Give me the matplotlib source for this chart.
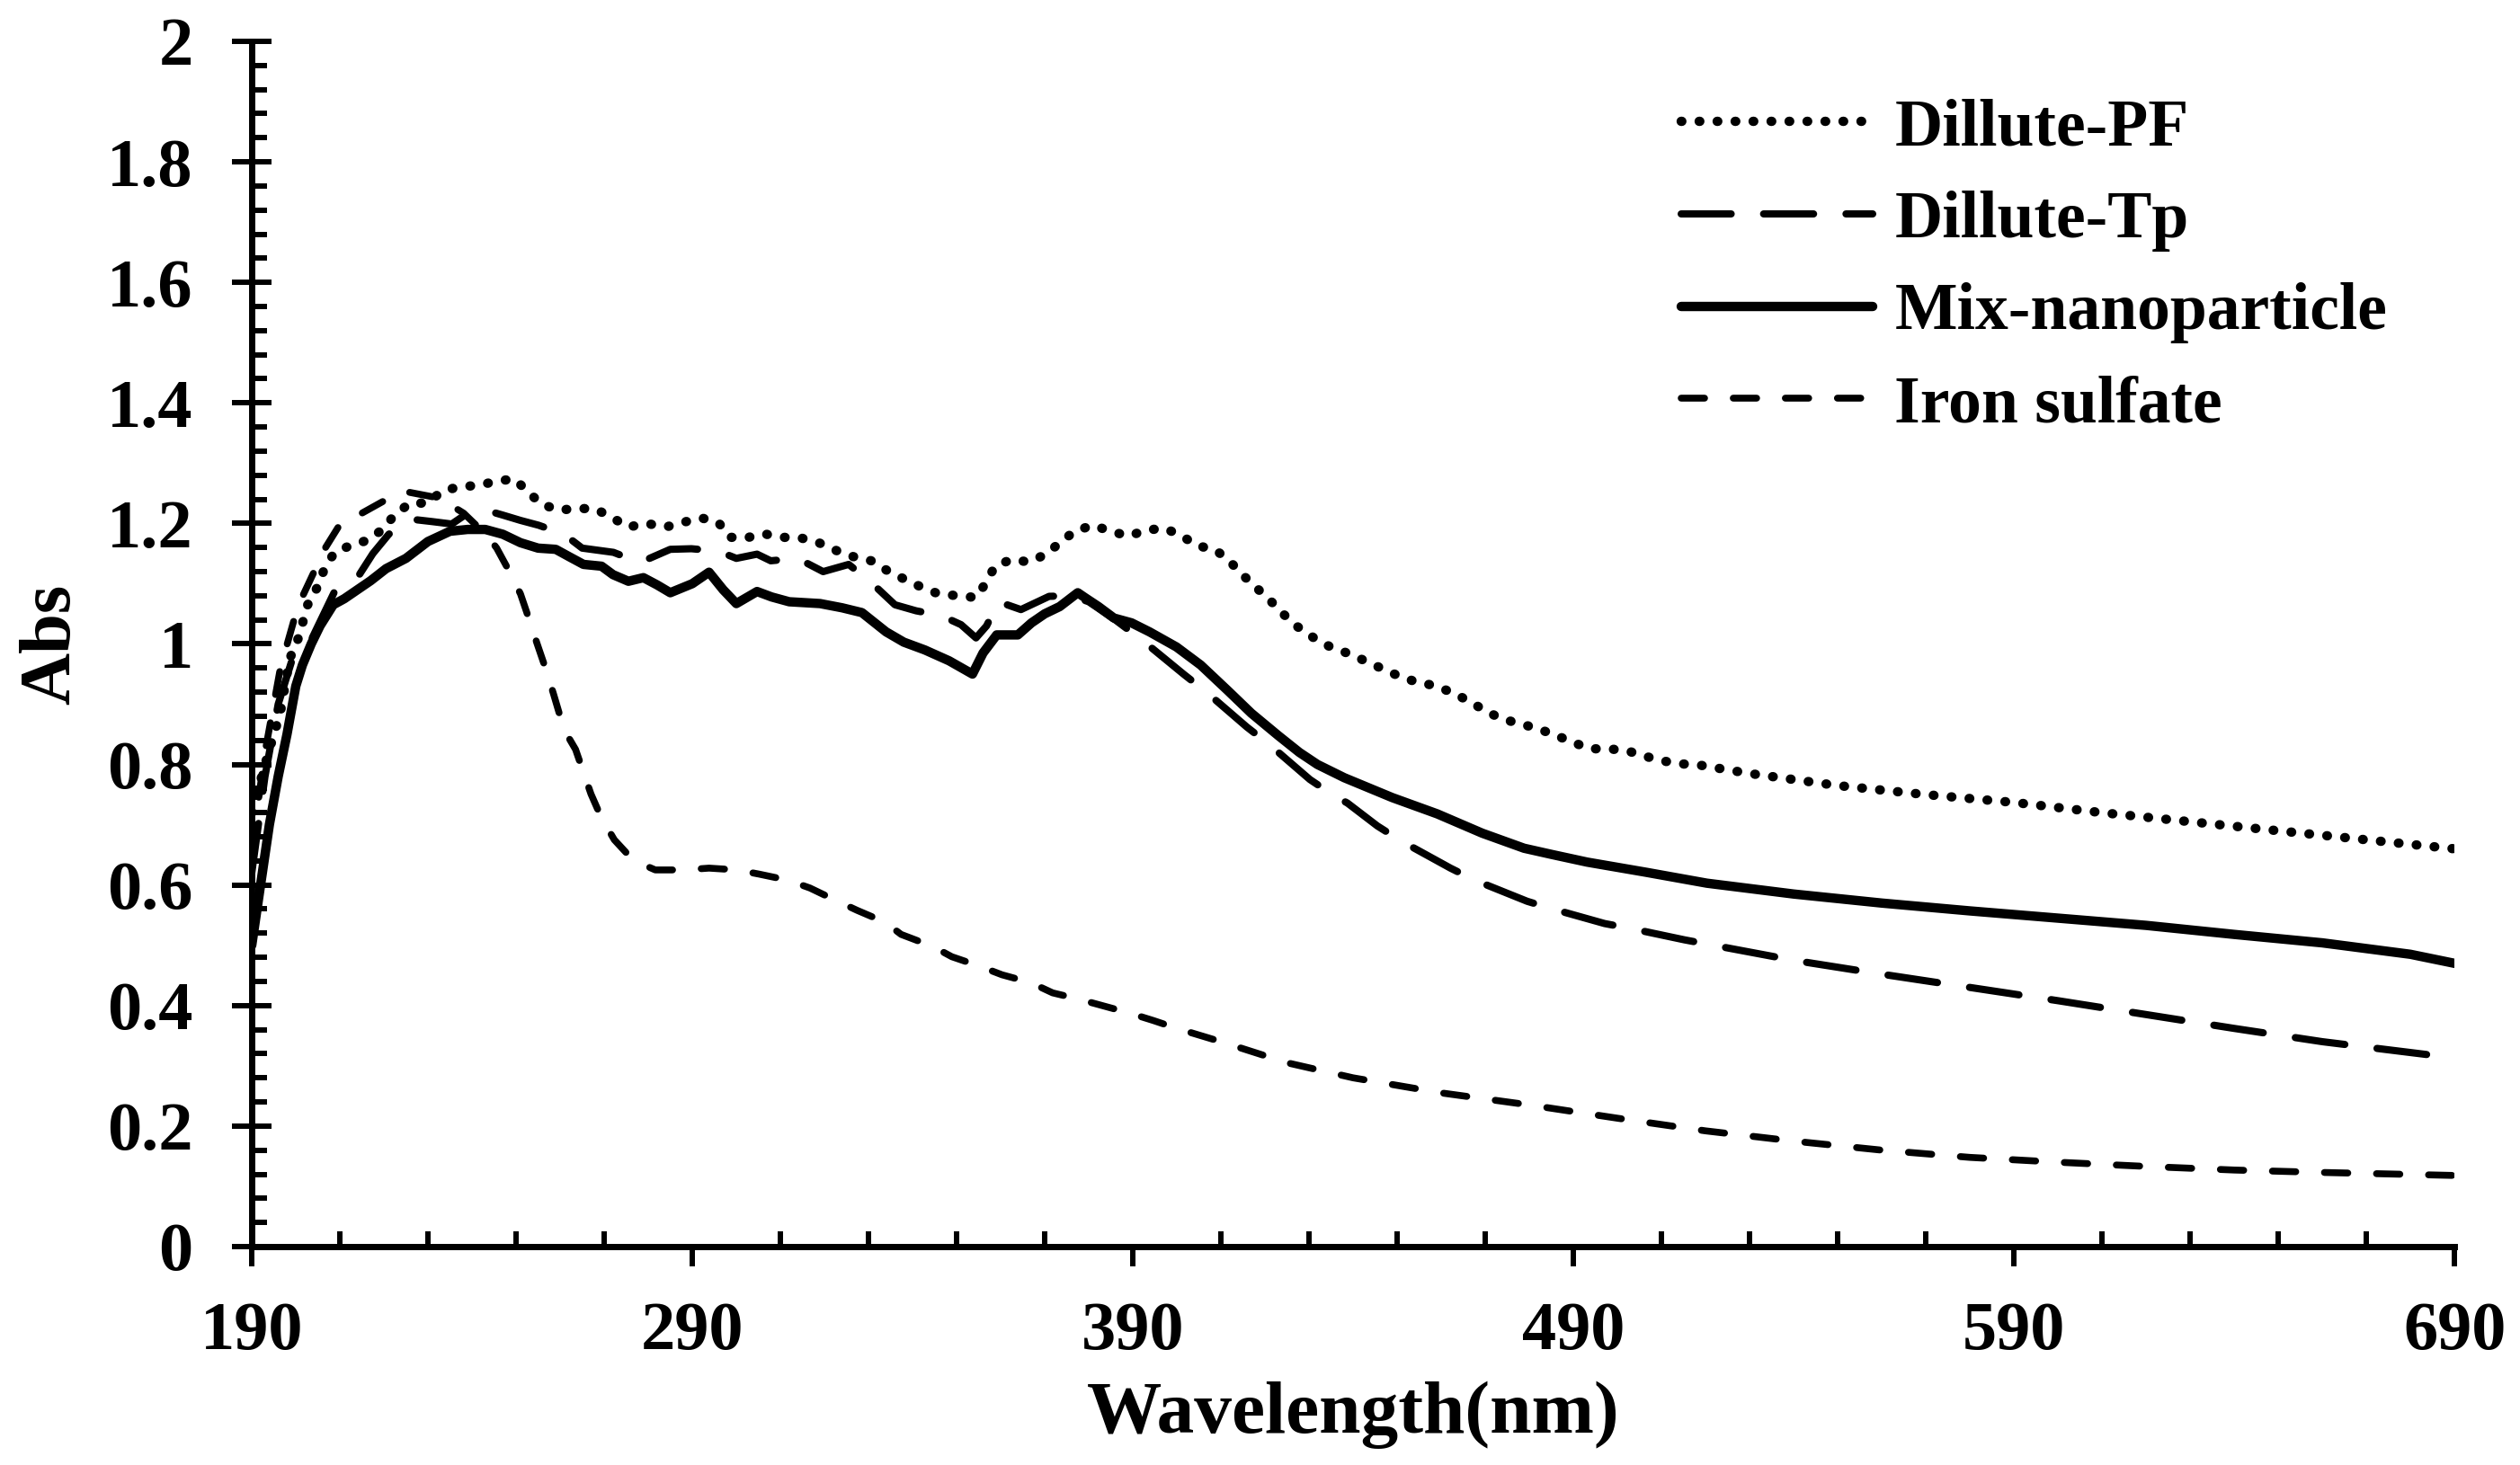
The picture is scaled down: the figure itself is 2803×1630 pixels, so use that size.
import matplotlib
matplotlib.use("Agg")
import matplotlib.pyplot as plt

# UV-Vis absorbance spectra
wl_pf = [190, 193, 196.5, 198.6, 200.6, 202.7, 205.1, 206.5, 208.8, 212.6, 216.3, 219.7,
         222.4, 225.8, 229.9, 233.3, 237.3, 241.4, 245.5, 249.6, 252.5, 255.7, 259.8,
         263.9, 268, 271.7, 275.5, 279.6, 284, 288, 292.1, 295.9, 298.5, 302.3, 306.1,
         310.3, 314.6, 318.7, 322.7, 326.5, 330.6, 334.2, 338, 342.1, 345.9, 350.3,
         354.4, 356.7, 358.7, 362.4, 366.5, 370.3, 373.6, 376.8, 380.9, 385, 389,
         393.1, 397.2, 400.9, 404.7, 408.8, 412, 415, 418.1, 421.2, 424.1, 427.3,
         430.9, 434.6, 438.6, 442.4, 446.3, 450.3, 454.3, 458.4, 462.3, 466.1, 469.8,
         473.6, 477.7, 481.7, 485.8, 489.8, 493.8, 497.9, 502.1, 506.1, 510.2, 514.5,
         518.6, 530, 550, 570, 590, 610, 630, 650, 670, 690]
abs_pf = [0.72, 0.80, 0.886, 0.975, 1.01, 1.065, 1.097, 1.125, 1.152, 1.164, 1.172, 1.19,
          1.214, 1.233, 1.234, 1.254, 1.261, 1.263, 1.27, 1.274, 1.254, 1.232, 1.222,
          1.225, 1.224, 1.21, 1.194, 1.2, 1.194, 1.202, 1.209, 1.202, 1.177, 1.176, 1.183,
          1.177, 1.176, 1.168, 1.155, 1.145, 1.138, 1.122, 1.108, 1.094, 1.083, 1.08,
          1.077, 1.102, 1.129, 1.14, 1.136, 1.149, 1.169, 1.187, 1.197, 1.187, 1.179,
          1.189, 1.192, 1.18, 1.163, 1.156, 1.137, 1.114, 1.093, 1.072, 1.05, 1.029,
          1.011, 0.996, 0.985, 0.973, 0.96, 0.947, 0.937, 0.931, 0.92, 0.906, 0.89,
          0.876, 0.868, 0.86, 0.849, 0.837, 0.826, 0.826, 0.823, 0.814, 0.806, 0.801,
          0.799, 0.785, 0.765, 0.75, 0.737, 0.72, 0.705, 0.69, 0.675, 0.66]

wl_tp = [190, 193, 196, 199, 203.4, 208.8, 213.9, 217.5, 221.1, 226.2, 231, 235.4, 238,
         243.1, 246.9, 251, 255.1, 260.9, 265, 272.1, 278.1, 285, 289.8, 295.9, 300,
         304.7, 307.8, 313.9, 319.7, 325.5, 330.6, 336, 340.8, 346.5, 351, 354.4, 356.8,
         359.5, 364.6, 371, 376, 380, 386, 392, 401.5, 406.7, 415.9, 421, 430.2, 435.7,
         438.7, 445.5, 450.9, 462.1, 467.6, 479.5, 484.9, 497.1, 502.9, 515.2, 540,
         560, 580, 600, 620, 640, 660, 680, 690]
abs_tp = [0.62, 0.78, 0.90, 0.97, 1.005, 1.087, 1.109, 1.15, 1.182, 1.207, 1.203, 1.199,
          1.212, 1.222, 1.214, 1.205, 1.197, 1.182, 1.159, 1.152, 1.135, 1.157, 1.158,
          1.154, 1.142, 1.149, 1.138, 1.142, 1.12, 1.132, 1.102, 1.065, 1.055, 1.047,
          1.032, 1.01, 1.03, 1.07, 1.057, 1.079, 1.08, 1.07, 1.04, 1.007, 0.95, 0.92,
          0.862, 0.833, 0.775, 0.748, 0.736, 0.698, 0.673, 0.628, 0.608, 0.573, 0.561,
          0.536, 0.528, 0.509, 0.475, 0.452, 0.43, 0.408, 0.385, 0.362, 0.34, 0.322,
          0.313]

wl_mix = [190, 192, 194, 196, 198, 200, 201.5, 203.5, 205.5, 208.5, 211, 214, 217, 220.5,
          225, 230, 235, 239, 243, 247, 251, 255, 259, 262, 265.3, 269.4, 272, 275.5,
          278.9, 282, 285, 290, 293.8, 297, 300, 304.7, 308, 312, 319, 324, 328.5, 334,
          338, 342.8, 348.3, 353.6, 356, 359.1, 363.9, 367, 370, 373.4, 377.5, 379.1,
          382.2, 385.7, 389.7, 393.8, 399.9, 405.4, 411.5, 416.9, 423, 427.8, 431.9, 438,
          448.9, 459.1, 469.3, 478.8, 484.9, 493.1, 506.6, 520.3, 540, 560, 580, 600,
          620, 640, 660, 680, 690]
abs_mix = [0.50, 0.60, 0.70, 0.78, 0.85, 0.93, 0.965, 1.0, 1.03, 1.065, 1.075, 1.09,
           1.105, 1.125, 1.142, 1.17, 1.187, 1.19, 1.19, 1.182, 1.168, 1.159, 1.157,
           1.145, 1.132, 1.129, 1.115, 1.104, 1.11, 1.098, 1.085, 1.1, 1.119, 1.09, 1.067,
           1.087, 1.078, 1.07, 1.067, 1.06, 1.052, 1.02, 1.003, 0.99, 0.972, 0.95, 0.985,
           1.015, 1.015, 1.035, 1.05, 1.062, 1.085, 1.077, 1.062, 1.043, 1.035, 1.02,
           0.995, 0.965, 0.923, 0.885, 0.848, 0.82, 0.8, 0.778, 0.745, 0.718, 0.686,
           0.661, 0.651, 0.638, 0.621, 0.603, 0.585, 0.57, 0.557, 0.545, 0.533, 0.518,
           0.504, 0.485, 0.47]

wl_fe = [190, 193, 196.5, 199.6, 201.4, 204.1, 206.5, 209.9, 215, 220.4, 225.5, 232.6,
         238.1, 243.5, 245.6, 248.5, 251, 253, 254.7, 256.8, 258.5, 260.2, 261.9, 263.5,
         267, 269.4, 272.3, 276.6, 281.6, 288, 293.8, 300.2, 305.2, 311.7, 316.7, 322.4,
         327.4, 333.8, 337.4, 344.6, 348.9, 355.3, 360.3, 366.8, 371.8, 377.5, 382.5,
         389, 394.7, 400, 410, 425, 440, 460, 480, 500, 520, 540, 560, 580, 600, 620,
         640, 660, 690]
abs_fe = [0.66, 0.82, 0.96, 1.04, 1.077, 1.119, 1.157, 1.197, 1.217, 1.239, 1.252, 1.242,
          1.217, 1.179, 1.159, 1.12, 1.083, 1.04, 1.002, 0.957, 0.917, 0.875, 0.845,
          0.825, 0.751, 0.711, 0.675, 0.641, 0.625, 0.625, 0.628, 0.625, 0.618, 0.608,
          0.595, 0.575, 0.558, 0.538, 0.518, 0.498, 0.481, 0.465, 0.451, 0.438, 0.421,
          0.411, 0.401, 0.388, 0.375, 0.362, 0.34, 0.305, 0.28, 0.255, 0.235, 0.213,
          0.192, 0.175, 0.16, 0.148, 0.14, 0.133, 0.127, 0.123, 0.118]

labels = ["Dillute-PF", "Dillute-Tp", "Mix-nanoparticle", "Iron sulfate"]
x_major = [190, 290, 390, 490, 590, 690]
y_major = [0, 0.2, 0.4, 0.6, 0.8, 1.0, 1.2, 1.4, 1.6, 1.8, 2.0]
y_labels = ['0', '0.2', '0.4', '0.6', '0.8', '1', '1.2', '1.4', '1.6', '1.8', '2']

plt.rcParams['font.family'] = ['Liberation Serif', 'DejaVu Serif']
plt.rcParams['font.weight'] = 'bold'
plt.rcParams['lines.scale_dashes'] = False

fig = plt.figure(figsize=(28.03, 16.30), dpi=100)
ax = fig.add_axes([0.0999, 0.1491, 0.8741, 0.8227])

ax.plot(wl_pf, abs_pf, color='black', lw=7.5, linestyle=(0, (0.5, 13.9)),
        dash_capstyle='round', label=labels[0])
ax.plot(wl_tp, abs_tp, color='black', lw=5.8, linestyle=(0, (40, 26)),
        dash_capstyle='round', label=labels[1])
ax.plot(wl_mix, abs_mix, color='black', lw=7.5, solid_capstyle='round', label=labels[2])
ax.plot(wl_fe, abs_fe, color='black', lw=5.5, linestyle=(0, (18.7, 23)),
        dash_capstyle='round', label=labels[3])

ax.set_xlim(190, 690)
ax.set_ylim(0, 2)
ax.set_xticks(x_major)
ax.set_xticks(list(range(190, 691, 20)), minor=True)
ax.set_yticks(y_major)
ax.set_yticklabels(y_labels)
ax.set_yticks([i * 0.04 for i in range(51)], minor=True)

for side in ['top', 'right']:
    ax.spines[side].set_visible(False)
for side in ['left', 'bottom']:
    ax.spines[side].set_linewidth(5)

ax.tick_params(axis='x', which='major', direction='out', length=16, width=4.3,
               labelsize=55, pad=28)
ax.tick_params(axis='y', which='major', direction='inout', length=32, width=4.3,
               labelsize=55, pad=31)
ax.tick_params(which='minor', direction='in', length=12, width=4.3)

ax.set_xlabel('Wavelength(nm)', fontsize=60, fontweight='bold', labelpad=14)
ax.set_ylabel('Abs', fontsize=58, fontweight='bold', labelpad=18)

ax.legend(loc='upper left', bbox_to_anchor=(0.667, 0.933), bbox_transform=fig.transFigure,
          frameon=False, borderpad=0, borderaxespad=0, handlelength=2.9,
          handletextpad=0.33, labelspacing=0.47, prop={'size': 53, 'weight': 'bold'})

plt.savefig('out.png', dpi=100)
plt.close()
